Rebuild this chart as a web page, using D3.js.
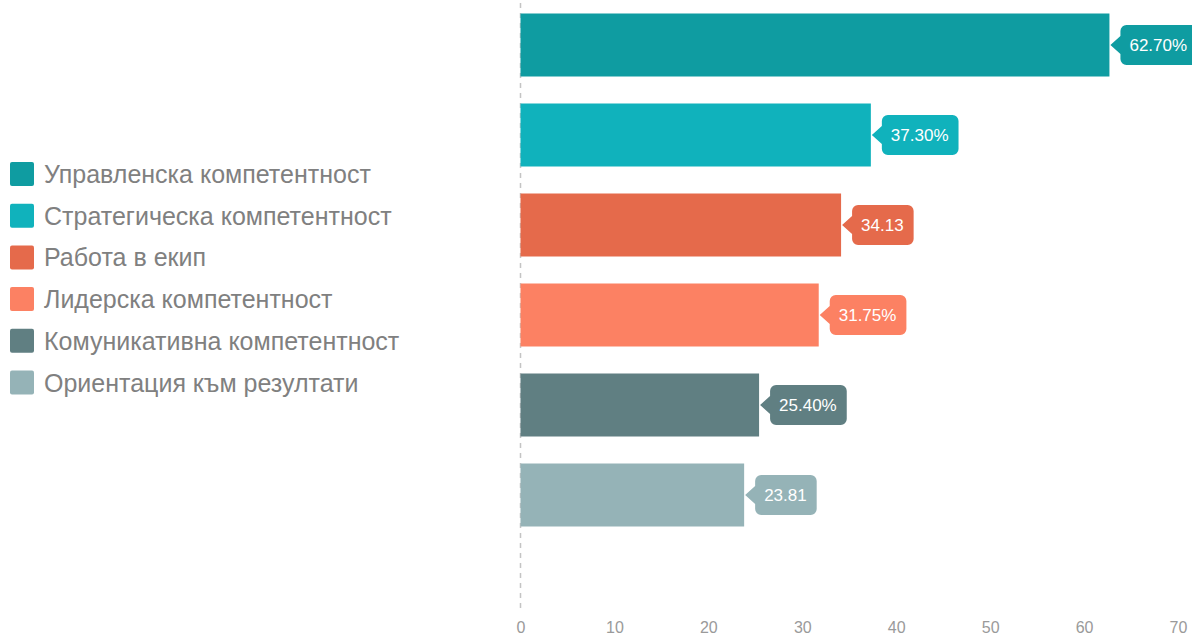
<!DOCTYPE html>
<html>
<head>
<meta charset="utf-8">
<script src="https://cdn.jsdelivr.net/npm/d3@7/dist/d3.min.js"></script>
<style>
  html, body { margin: 0; padding: 0; background: #fff; }
  svg { display: block; }
</style>
</head>
<body>
<svg id="chart" width="1192" height="635"></svg>
<script>
// Competence categories, shown top to bottom
const categories = [
  "Управленска компетентност",
  "Стратегическа компетентност",
  "Работа в екип",
  "Лидерска компетентност",
  "Комуникативна компетентност",
  "Ориентация към резултати"
];
const values = [62.70, 37.30, 34.13, 31.75, 25.40, 23.81];
const valueLabels = ["62.70%", "37.30%", "34.13", "31.75%", "25.40%", "23.81"];
const colors = ["#0f9ca1", "#10b2bc", "#e56a4b", "#fc8163", "#607f82", "#95b3b7"];
const tickValues = [0, 10, 20, 30, 40, 50, 60, 70];

const svg = d3.select("#chart");
const font = "'Liberation Sans', Arial, sans-serif";

const x = d3.scaleLinear().domain([0, 70]).range([520.5, 1178]);
const y = d3.scaleBand().domain(categories).range([0, 540]).paddingInner(0.3).paddingOuter(0.15);

// zero reference line
svg.append("line")
  .attr("x1", x(0)).attr("x2", x(0))
  .attr("y1", 3).attr("y2", 611)
  .attr("stroke", "#c4c4c4").attr("stroke-width", 1.5)
  .attr("stroke-dasharray", "5,5");

// bars
svg.append("g").selectAll("rect")
  .data(categories)
  .join("rect")
  .attr("x", x(0))
  .attr("y", d => y(d))
  .attr("width", (d, i) => x(values[i]) - x(0))
  .attr("height", y.bandwidth())
  .attr("fill", (d, i) => colors[i]);

// value callouts with a pointer towards the bar end
const labelG = svg.append("g").attr("font-family", font).attr("font-size", 17);
categories.forEach((c, i) => {
  const tipX = x(values[i]) + 1;
  const cy = y(c) + y.bandwidth() / 2;
  const boxX = tipX + 10;
  const g = labelG.append("g");
  const t = g.append("text")
    .attr("x", boxX + 9)
    .attr("y", cy)
    .attr("dy", "0.36em")
    .attr("fill", "#ffffff")
    .text(valueLabels[i]);
  const w = t.node().getComputedTextLength() + 19;
  const h = 40, r = 6, top = cy - h / 2;
  const path = d3.path();
  path.moveTo(boxX + r, top);
  path.lineTo(boxX + w - r, top);
  path.arcTo(boxX + w, top, boxX + w, top + r, r);
  path.lineTo(boxX + w, top + h - r);
  path.arcTo(boxX + w, top + h, boxX + w - r, top + h, r);
  path.lineTo(boxX + r, top + h);
  path.arcTo(boxX, top + h, boxX, top + h - r, r);
  path.lineTo(boxX, cy + 9);
  path.lineTo(tipX, cy);
  path.lineTo(boxX, cy - 9);
  path.lineTo(boxX, top + r);
  path.arcTo(boxX, top, boxX + r, top, r);
  path.closePath();
  g.insert("path", "text").attr("d", path.toString()).attr("fill", colors[i]);
});

// bottom axis labels
const axis = d3.axisBottom(x).tickValues(tickValues).tickSize(0).tickPadding(0);
const axG = svg.append("g").attr("transform", "translate(0,621)").call(axis);
axG.select(".domain").remove();
axG.selectAll("text")
  .attr("font-family", font).attr("font-size", 16)
  .attr("fill", "#9a9a9a").attr("dy", "0.75em");

// legend
const legend = svg.append("g").attr("font-family", font);
const lg = legend.selectAll("g")
  .data(categories)
  .join("g")
  .attr("transform", (d, i) => `translate(10, ${162 + i * 41.7})`);
lg.append("rect")
  .attr("width", 24).attr("height", 24).attr("rx", 2)
  .attr("fill", (d, i) => colors[i]);
lg.append("text")
  .attr("x", 34).attr("y", 12).attr("dy", "0.36em")
  .attr("font-size", 25).attr("fill", "#808080")
  .text(d => d);
</script>
</body>
</html>
